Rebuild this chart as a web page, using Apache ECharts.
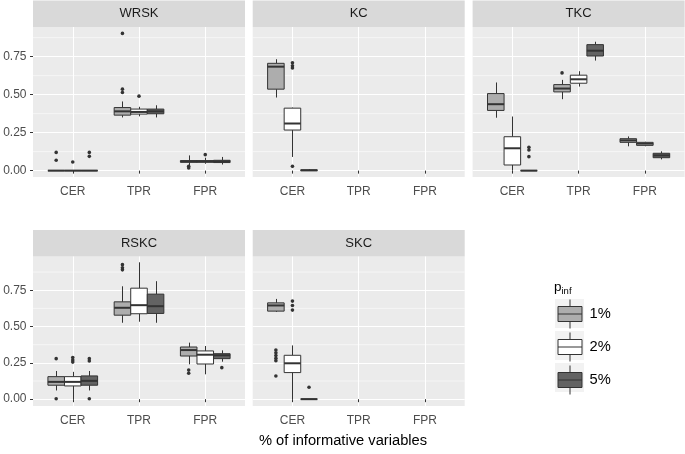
<!DOCTYPE html>
<html>
<head>
<meta charset="utf-8">
<script src="https://cdn.jsdelivr.net/npm/echarts@6/dist/echarts.min.js"></script>
<style>html,body{margin:0;padding:0;background:#fff}#c{width:685px;height:454px}</style>
</head>
<body>
<div id="c"></div>
<script>
// ---------------- data ----------------
const panels = ['WRSK', 'KC', 'TKC', 'RSKC', 'SKC'];
const metrics = ['CER', 'TPR', 'FPR'];
const groups = ['1%', '2%', '5%'];
const yTicks = [0, 0.25, 0.5, 0.75];
const yMinor = [0.125, 0.375, 0.625, 0.875];
const xTitle = '% of informative variables';

// box stats: [metricIndex, groupIndex, lowerWhisker, q1, median, q3, upperWhisker]
const WRSK_box = [
  [0, 0, 0, 0, 0, 0, 0],
  [0, 1, 0, 0, 0, 0, 0],
  [0, 2, 0, 0, 0, 0, 0],
  [1, 0, 0.35, 0.365, 0.39, 0.415, 0.455],
  [1, 1, 0.357, 0.372, 0.386, 0.405, 0.42],
  [1, 2, 0.35, 0.374, 0.39, 0.405, 0.43],
  [2, 0, 0.035, 0.055, 0.06, 0.066, 0.1],
  [2, 1, 0.045, 0.055, 0.06, 0.066, 0.085],
  [2, 2, 0.04, 0.053, 0.06, 0.068, 0.09]
];
// outliers: [metricIndex, groupIndex, value]
const WRSK_out = [
  [0, 0, 0.12], [0, 0, 0.068], [0, 1, 0.057], [0, 2, 0.12], [0, 2, 0.094],
  [1, 0, 0.903], [1, 0, 0.536], [1, 0, 0.514], [1, 1, 0.49],
  [2, 0, 0.028], [2, 0, 0.017], [2, 1, 0.105]
];

const KC_box = [
  [0, 0, 0.481, 0.536, 0.684, 0.706, 0.733],
  [0, 1, 0.09, 0.267, 0.31, 0.411, 0.415],
  [0, 2, 0, 0, 0.002, 0.005, 0.01]
];
const KC_out = [
  [0, 1, 0.71], [0, 1, 0.69], [0, 1, 0.675], [0, 1, 0.028]
];

const TKC_box = [
  [0, 0, 0.348, 0.396, 0.437, 0.507, 0.58],
  [0, 1, 0, 0.037, 0.147, 0.223, 0.356],
  [0, 2, 0, 0, 0, 0, 0],
  [1, 0, 0.47, 0.518, 0.54, 0.566, 0.597],
  [1, 1, 0.553, 0.575, 0.601, 0.628, 0.654],
  [1, 2, 0.724, 0.754, 0.789, 0.829, 0.848],
  [2, 0, 0.16, 0.186, 0.199, 0.21, 0.225],
  [2, 1, 0.16, 0.166, 0.177, 0.186, 0.19],
  [2, 2, 0.074, 0.085, 0.1, 0.114, 0.127]
];
const TKC_out = [
  [0, 2, 0.153], [0, 2, 0.136], [0, 2, 0.092], [1, 0, 0.643]
];

const RSKC_box = [
  [0, 0, 0.06, 0.096, 0.119, 0.155, 0.194],
  [0, 1, 0, 0.091, 0.119, 0.155, 0.188],
  [0, 2, 0.06, 0.096, 0.126, 0.16, 0.194],
  [1, 0, 0.526, 0.578, 0.629, 0.67, 0.777],
  [1, 1, 0.533, 0.588, 0.647, 0.764, 0.942],
  [1, 2, 0.526, 0.59, 0.64, 0.723, 0.812],
  [2, 0, 0.24, 0.297, 0.338, 0.359, 0.389],
  [2, 1, 0.171, 0.242, 0.306, 0.332, 0.366],
  [2, 2, 0.258, 0.279, 0.302, 0.313, 0.336]
];
const RSKC_out = [
  [0, 0, 0.279], [0, 0, 0.003], [0, 1, 0.286], [0, 1, 0.27], [0, 1, 0.255],
  [0, 2, 0.279], [0, 2, 0.263], [0, 2, 0.003],
  [1, 0, 0.926], [1, 0, 0.905], [1, 0, 0.89],
  [2, 0, 0.2], [2, 0, 0.178], [2, 2, 0.217]
];

const SKC_box = [
  [0, 0, 0.6, 0.606, 0.645, 0.663, 0.69],
  [0, 1, 0, 0.183, 0.247, 0.302, 0.37],
  [0, 2, 0, 0, 0, 0, 0]
];
const SKC_out = [
  [0, 0, 0.338], [0, 0, 0.32], [0, 0, 0.3], [0, 0, 0.282], [0, 0, 0.265], [0, 0, 0.16],
  [0, 1, 0.675], [0, 1, 0.645], [0, 1, 0.613], [0, 2, 0.082]
];

const boxData = [WRSK_box, KC_box, TKC_box, RSKC_box, SKC_box];
const outData = [WRSK_out, KC_out, TKC_out, RSKC_out, SKC_out];

// ---------------- layout / style ----------------
const FONT = '"Liberation Sans", Arial, Helvetica, sans-serif';
const fills = ['#ADADAD', '#FFFFFF', '#636363'];
const LINE = '#333333';
const DODGE = 0.25, HALF = 0.125;
const PW = 212;
const layout = [
  { left: 33, top: 27, height: 150, ymin: -0.042, ymax: 0.945, yLabels: true },
  { left: 252.7, top: 27, height: 150, ymin: -0.042, ymax: 0.945, yLabels: false },
  { left: 472.6, top: 27, height: 150, ymin: -0.042, ymax: 0.945, yLabels: false },
  { left: 33, top: 256.5, height: 149.5, ymin: -0.047, ymax: 0.982, yLabels: true },
  { left: 252.7, top: 256.5, height: 149.5, ymin: -0.047, ymax: 0.982, yLabels: false }
];
const STRIP_H = 26.5;

function boxRender(params, api) {
  const m = api.value(0), g = api.value(1);
  const xc = m + 1 + (g - 1) * DODGE;
  const xl = api.coord([xc - HALF, 0])[0];
  const xr = api.coord([xc + HALF, 0])[0];
  const xm = Math.round(api.coord([xc, 0])[0]) + 0.5;
  const y = i => api.coord([xc, api.value(i)])[1];
  const lo = y(2), q1 = y(3), md = y(4), q3 = y(5), hi = y(6);
  const ls = { stroke: LINE, lineWidth: 1 };
  return {
    type: 'group',
    children: [
      { type: 'line', shape: { x1: xm, y1: q3, x2: xm, y2: hi }, style: ls },
      { type: 'line', shape: { x1: xm, y1: q1, x2: xm, y2: lo }, style: ls },
      { type: 'rect', shape: { x: xl, y: q3, width: xr - xl, height: q1 - q3 },
        style: { fill: fills[g], stroke: LINE, lineWidth: 1 } },
      { type: 'line', shape: { x1: xl, y1: md, x2: xr, y2: md }, style: { stroke: LINE, lineWidth: 2 } }
    ]
  };
}

function minorRender(params, api) {
  const cs = params.coordSys;
  const yy = api.coord([1, api.value(1)])[1];
  return { type: 'line', shape: { x1: cs.x, y1: yy, x2: cs.x + cs.width, y2: yy },
    style: { stroke: '#FFFFFF', lineWidth: 0.55 }, silent: true };
}

const grids = [], xAxes = [], yAxes = [], series = [], graphics = [];
layout.forEach((L, i) => {
  grids.push({ left: L.left, top: L.top, width: PW, height: L.height, show: true,
    backgroundColor: '#EBEBEB', borderWidth: 0, containLabel: false });
  xAxes.push({
    type: 'value', gridIndex: i, min: 0.4, max: 3.6,
    axisLine: { show: false },
    axisTick: { show: true, length: 3, customValues: [1, 2, 3], lineStyle: { color: LINE, width: 1 } },
    axisLabel: { show: true, customValues: [1, 2, 3], margin: 9, color: '#4D4D4D', fontSize: 12,
      fontFamily: FONT, formatter: v => metrics[Math.round(v) - 1] },
    splitLine: { show: true, lineStyle: { color: '#FFFFFF', width: 1.1 } }
  });
  yAxes.push({
    type: 'value', gridIndex: i, min: L.ymin, max: L.ymax,
    axisLine: { show: false },
    axisTick: { show: L.yLabels, length: 3, customValues: yTicks, lineStyle: { color: LINE, width: 1 } },
    axisLabel: { show: L.yLabels, customValues: yTicks, margin: 6.5, color: '#4D4D4D', fontSize: 12,
      fontFamily: FONT, formatter: v => v.toFixed(2) },
    splitLine: { show: true, lineStyle: { color: '#FFFFFF', width: 1.1 } }
  });
  series.push({
    type: 'custom', name: 'minor' + i, xAxisIndex: i, yAxisIndex: i, z: 1, silent: true,
    renderItem: minorRender, data: yMinor.map(v => [1, v]), encode: { x: 0, y: 1 }
  });
  groups.forEach((gname, g) => {
    series.push({
      type: 'custom', name: gname, xAxisIndex: i, yAxisIndex: i, z: 2,
      itemStyle: { color: fills[g] },
      renderItem: boxRender,
      encode: { x: 0, y: [2, 3, 4, 5, 6] },
      data: boxData[i].filter(d => d[1] === g)
    });
  });
  series.push({
    type: 'scatter', name: 'out' + i, xAxisIndex: i, yAxisIndex: i, z: 3, silent: true,
    symbolSize: 3.6, itemStyle: { color: LINE, opacity: 1 },
    data: outData[i].map(d => [d[0] + 1 + (d[1] - 1) * DODGE, d[2]])
  });
  // strip
  graphics.push({ type: 'rect', left: L.left, top: L.top - STRIP_H, silent: true, z: 0,
    shape: { width: PW, height: STRIP_H }, style: { fill: '#D9D9D9' } });
  graphics.push({ type: 'text', x: L.left + PW / 2, y: L.top - STRIP_H / 2, silent: true, z: 1,
    style: { text: panels[i], fill: '#1A1A1A', font: '13px ' + FONT, textAlign: 'center', textVerticalAlign: 'middle' } });
});

// legend key backgrounds
[299, 331, 363].forEach(t => {
  graphics.push({ type: 'rect', x: 555, y: t, silent: true, z: 0,
    shape: { width: 29, height: 29 }, style: { fill: '#F2F2F2' } });
});
graphics.push({ type: 'text', x: 554, y: 280.5, silent: true,
  style: { text: '{p|p}{s|inf}', rich: {
    p: { fontSize: 13.5, fontFamily: FONT, fill: '#000', verticalAlign: 'bottom' },
    s: { fontSize: 9.5, fontFamily: FONT, fill: '#000', verticalAlign: 'bottom', padding: [0, 0, -2, 0] } } } });
graphics.push({ type: 'text', x: 343, y: 441, silent: true,
  style: { text: xTitle, fill: '#000', font: '14.7px ' + FONT, textAlign: 'center', textVerticalAlign: 'middle' } });

const ICON = 'path://M12,0L12,7M0,7L24,7L24,22L0,22ZM0,14.5L24,14.5M12,22L12,29';

const option = {
  animation: false,
  backgroundColor: '#FFFFFF',
  grid: grids, xAxis: xAxes, yAxis: yAxes, series: series,
  graphic: graphics,
  legend: {
    orient: 'vertical', left: 557.5, top: 299, itemWidth: 24, itemHeight: 29, itemGap: 3, padding: 0,
    selectedMode: false,
    textStyle: { fontSize: 14.7, fontFamily: FONT, color: '#000', padding: [2, 0, 0, 2.5] },
    data: groups.map((g, k) => ({ name: g, icon: ICON,
      itemStyle: { color: fills[k], borderColor: LINE, borderWidth: 1 } }))
  }
};
const chart = echarts.init(document.getElementById('c'), null, { renderer: 'canvas' });
chart.setOption(option);
</script>
</body>
</html>
